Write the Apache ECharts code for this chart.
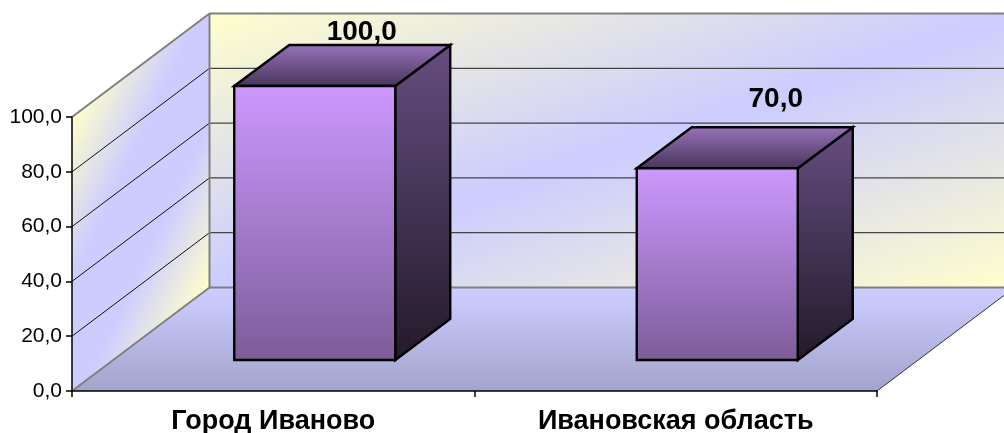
<!DOCTYPE html>
<html><head><meta charset="utf-8">
<script src="https://cdn.jsdelivr.net/npm/echarts@6/dist/echarts.min.js"></script>
<style>html,body{margin:0;padding:0;background:#fff}#c{width:1004px;height:433px}</style></head>
<body><div id="c"></div>
<script>
const categories = ['Город Иваново', 'Ивановская область'];
const values = [100, 70];
const valueLabels = ['100,0', '70,0'];
const yMin = 0, yMax = 100, yStep = 20;
const gridValues = [20, 40, 60, 80];

// layout of the oblique projection (pixels)
const DEPTH = [137.5, -103.5];
const BAR_FRONT = [41.5, -31];
const BAR_DEPTH = [55, -41];
const BAR_WIDTH_RATIO = 0.4;
const LABEL_SHIFT = [[47, -54], [58.5, -69]];

const G = echarts.graphic.LinearGradient;
const poly = (points, fill, stroke, lw) => ({
  type: 'polygon', shape: { points },
  style: { fill: fill || 'none', stroke: stroke || 'none', lineWidth: lw || 0, lineJoin: 'miter' }
});
const line = (a, b, stroke, lw) => ({
  type: 'line', shape: { x1: a[0], y1: a[1], x2: b[0], y2: b[1] },
  style: { stroke, lineWidth: lw, fill: 'none' }
});
const add = (p, d) => [p[0] + d[0], p[1] + d[1]];
const YEL = '#FFFFCC', PER = '#CCCCFF';

function renderWalls(params, api) {
  const band = api.size([1, 0])[0];
  const x0 = api.coord([0, yMin])[0] - band / 2;
  const x1 = x0 + band * categories.length;
  const y0 = api.coord([0, yMin])[1];
  const y1 = api.coord([0, yMax])[1];
  const fBL = [x0, y0], fBR = [x1, y0], fTL = [x0, y1];
  const bBL = add(fBL, DEPTH), bBR = add(fBR, DEPTH), bTL = add(fTL, DEPTH), bTR = [bBR[0], bTL[1]];
  const ch = [];
  ch.push(poly([bTL, bTR, bBR, bBL], new G(0.397, -0.4, 0.603, 1.4, [
    { offset: 0, color: YEL }, { offset: 0.5, color: PER }, { offset: 1, color: YEL }])));
  ch.push(poly([fTL, bTL, bBL, fBL], new G(0, 0.275, 1.29, 0.5, [
    { offset: 0, color: YEL }, { offset: 0.357, color: PER }, { offset: 0.643, color: PER }, { offset: 1, color: YEL }])));
  ch.push(poly([fBL, fBR, bBR, bBL], new G(0, 0, 0, 1, [
    { offset: 0, color: '#CCCCFF' }, { offset: 0.15, color: '#C8C8FA' }, { offset: 1, color: '#A3A3CC' }])));
  gridValues.forEach(v => {
    const y = api.coord([0, v])[1];
    const a = [x0, y], b = add(a, DEPTH);
    ch.push(line(a, b, '#111', 1));
    ch.push(line(b, [bBR[0], b[1]], '#444', 1.2));
  });
  ch.push(line(fTL, bTL, '#808080', 2));
  ch.push(line(bTL, bTR, '#808080', 2));
  ch.push(line(bTL, bBL, '#808080', 2));
  ch.push(line(bBL, bBR, '#808080', 2));
  ch.push(line(fBL, bBL, '#808080', 2));
  ch.push(line(fBR, bBR, '#333', 1));
  return { type: 'group', children: ch };
}

function renderBar(params, api) {
  const cat = api.value(0), val = api.value(1);
  const w = api.size([1, 0])[0] * BAR_WIDTH_RATIO;
  const base = api.coord([cat, 0]), top = api.coord([cat, val]);
  const xL = base[0] + BAR_FRONT[0] - w / 2, xR = xL + w;
  const yB = base[1] + BAR_FRONT[1], yT = top[1] + BAR_FRONT[1];
  const fTL = [xL, yT], fTR = [xR, yT], fBR = [xR, yB], fBL = [xL, yB];
  const bTL = add(fTL, BAR_DEPTH), bTR = add(fTR, BAR_DEPTH), bBR = add(fBR, BAR_DEPTH);
  const shift = LABEL_SHIFT[params.dataIndex];
  return {
    type: 'group', children: [
      poly([fTR, bTR, bBR, fBR], new G(0, 0, 0, 1, [{ offset: 0, color: '#664D80' }, { offset: 1, color: '#231A2A' }]), '#000', 2.4),
      poly([fTL, bTL, bTR, fTR], new G(0, 0, 0, 1, [{ offset: 0, color: '#9973BB' }, { offset: 1, color: '#46345A' }]), '#000', 2.4),
      poly([fTL, fTR, fBR, fBL], new G(0, 0, 0, 1, [{ offset: 0, color: '#CC99FF' }, { offset: 1, color: '#7D5C99' }]), '#000', 2.4),
      {
        type: 'text', z2: 10,
        style: {
          x: (xL + xR) / 2 + shift[0], y: yT + shift[1], text: valueLabels[params.dataIndex],
          font: 'bold 28px "Liberation Sans", Arial, sans-serif', fill: '#000', align: 'center', verticalAlign: 'middle'
        }
      }
    ]
  };
}

const chart = echarts.init(document.getElementById('c'), null, { renderer: 'canvas' });
chart.setOption({
  animation: false,
  backgroundColor: '#fff',
  grid: { left: 72, right: 127, top: 117, bottom: 42, containLabel: false, outerBoundsMode: 'none' },
  xAxis: {
    type: 'category', data: categories, z: 5,
    axisLine: { show: true, lineStyle: { color: '#000', width: 1.5 } },
    axisTick: { show: true, alignWithLabel: false, length: 6, lineStyle: { color: '#000', width: 1.5 } },
    axisLabel: { color: '#000', fontFamily: '"Liberation Sans", Arial, sans-serif', fontWeight: 'bold', fontSize: 27, margin: 17, interval: 0 }
  },
  yAxis: {
    type: 'value', min: yMin, max: yMax, interval: yStep, z: 5,
    splitLine: { show: false },
    axisLine: { show: true, lineStyle: { color: '#000', width: 1.5 } },
    axisTick: { show: true, length: 6, lineStyle: { color: '#000', width: 1.5 } },
    axisLabel: { color: '#000', fontFamily: '"Liberation Sans", Arial, sans-serif', fontSize: 21, margin: 10,
      formatter: v => v.toFixed(1).replace('.', ',') }
  },
  series: [
    { type: 'custom', silent: true, clip: false, z: 1, renderItem: renderWalls, data: [[0, 0]], encode: { x: 0, y: 1 } },
    { type: 'custom', silent: true, clip: false, z: 2, renderItem: renderBar,
      data: values.map((v, i) => [i, v]), encode: { x: 0, y: 1 } }
  ]
});
</script></body></html>
